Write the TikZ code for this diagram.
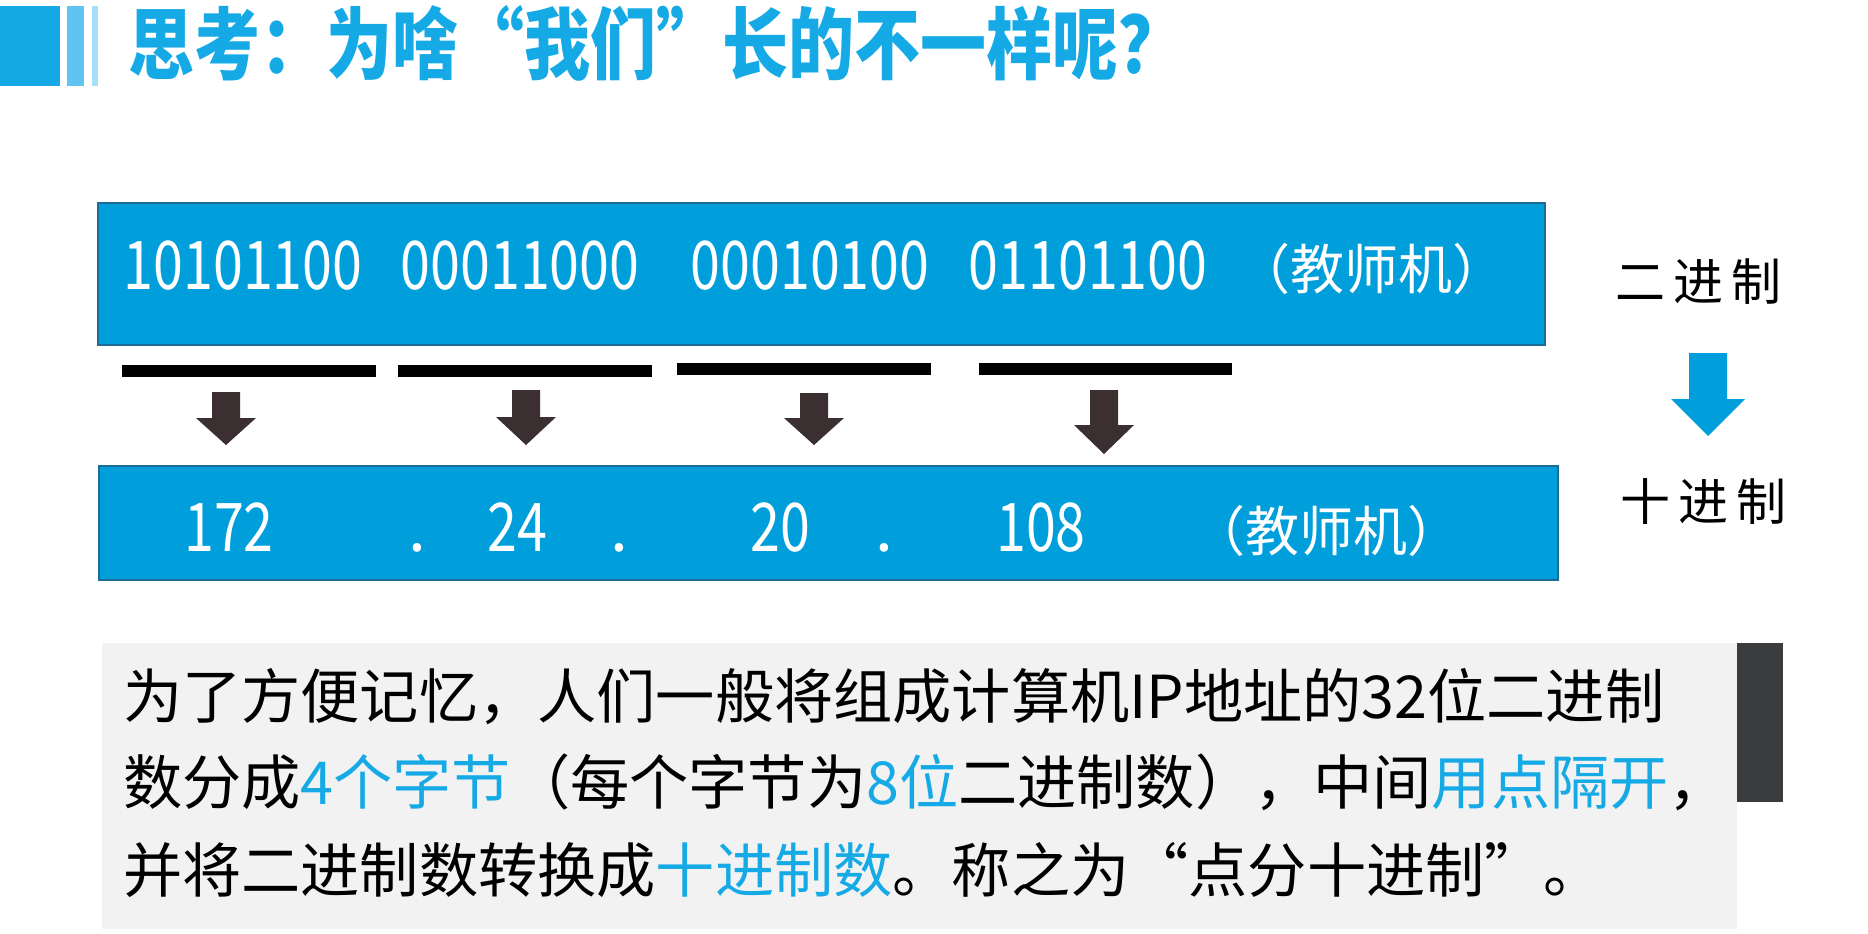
\documentclass[tikz,border=0pt]{standalone}
\usepackage{fontspec}
\setmainfont{Noto Sans CJK SC}
\usepackage{graphicx}
\definecolor{titleblue}{RGB}{21,170,230}
\definecolor{decotwo}{RGB}{95,196,240}
\definecolor{decothree}{RGB}{170,222,246}
\definecolor{boxblue}{RGB}{0,158,218}
\definecolor{boxborder}{RGB}{28,108,150}
\definecolor{arrowdark}{RGB}{59,47,50}
\definecolor{graybg}{RGB}{242,242,242}
\definecolor{darkbar}{RGB}{58,60,62}
\definecolor{hl}{RGB}{21,170,230}
\newcommand{\dnarrow}[7]{% x, top, headstart, tip, shaft half, head half, colour
  \fill[#7] ({#1-#5},#2) -- ({#1+#5},#2) -- ({#1+#5},#3) -- ({#1+#6},#3) -- (#1,#4)
    -- ({#1-#6},#3) -- ({#1-#5},#3) -- cycle;}
\newcommand{\narrowdigits}[1]{\scalebox{0.84}[1.05]{#1}}
\begin{document}
\begin{tikzpicture}[x=0.5pt,y=-0.5pt,
  every node/.style={inner sep=0pt,outer sep=0pt},
  bluebox/.style={fill=boxblue,draw=boxborder,line width=1pt},
  bartop/.style={fill=black},
  digits/.style={anchor=base,text=white,font=\fontsize{32pt}{38pt}\selectfont},
  parentxt/.style={anchor=base,text=white,font=\fontsize{27pt}{32pt}\selectfont},
  bodytxt/.style={anchor=base west,font=\fontsize{29.6pt}{36pt}\selectfont},
  sidelabel/.style={anchor=base west,font=\fontsize{25pt}{30pt}\selectfont},
  titletxt/.style={anchor=base west,text=titleblue,font=\fontsize{33pt}{40pt}\selectfont\bfseries}]
\useasboundingbox (0,0) rectangle (1868,933);
% title decoration
\fill[titleblue] (0,6) rectangle (60,86);
\fill[decotwo] (67,6) rectangle (84,86);
\fill[decothree] (92,6) rectangle (98,86);
\node[titletxt] (title) at (128,73) {\scalebox{1}[1.19]{思考：为啥“我们”长的不一样呢？}};
% top box
\filldraw[bluebox] (98,203) rectangle (1545,345);
\node[digits] (b1) at (243,289) {\narrowdigits{10101100}};
\node[digits] (b2) at (520,289) {\narrowdigits{00011000}};
\node[digits] (b3) at (810,289) {\narrowdigits{00010100}};
\node[digits] (b4) at (1088,289) {\narrowdigits{01101100}};
\node[parentxt] (tp) at (1371,289) {（教师机）};
% bars
\fill[bartop] (122,365) rectangle (376,377);
\fill[bartop] (398,365) rectangle (652,377);
\fill[bartop] (677,363) rectangle (931,375);
\fill[bartop] (979,363) rectangle (1232,375);
% dark arrows
\dnarrow{226}{392}{418}{445}{14}{30}{arrowdark}
\dnarrow{526}{390}{417}{445}{14}{30}{arrowdark}
\dnarrow{814}{393}{418}{445}{14}{30}{arrowdark}
\dnarrow{1104}{390}{425}{454}{14}{30}{arrowdark}
% bottom box
\filldraw[bluebox] (99,466) rectangle (1558,580);
\node[digits] (d1) at (229,551) {\narrowdigits{172}};
\node[digits] (p1) at (417,551) {.};
\node[digits] (d2) at (517,551) {\narrowdigits{24}};
\node[digits] (p2) at (619,551) {.};
\node[digits] (d3) at (780,551) {\narrowdigits{20}};
\node[digits] (p3) at (884,551) {.};
\node[digits] (d4) at (1041,551) {\narrowdigits{108}};
\node[parentxt] (bp) at (1326,551) {（教师机）};
% side labels and arrow
\node[sidelabel] (bin) at (1615,300) {二\hspace{4pt}进\hspace{4pt}制};
\dnarrow{1708}{353}{399}{436}{19}{37}{boxblue}
\node[sidelabel] (dec) at (1620,520) {十\hspace{4pt}进\hspace{4pt}制};
% explanation box
\fill[graybg] (102,643) rectangle (1737,929);
\fill[darkbar] (1737,643) rectangle (1783,802);
\node[bodytxt] (l1) at (123,718) {为了方便记忆，人们一般将组成计算机IP地址的32位二进制};
\node[bodytxt] (l2) at (123,804) {数分成\textcolor{hl}{4个字节}（每个字节为\textcolor{hl}{8位}二进制数），中间\textcolor{hl}{用点隔开}，};
\node[bodytxt] (l3) at (123,892) {并将二进制数转换成\textcolor{hl}{十进制数}。称之为“点分十进制”。};
\end{tikzpicture}
\end{document}
